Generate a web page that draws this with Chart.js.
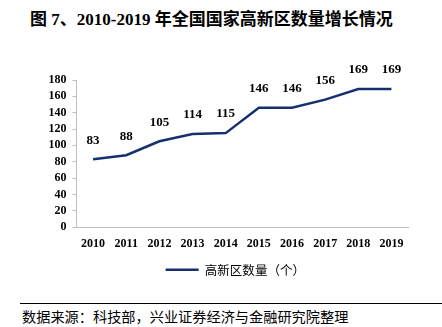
<!DOCTYPE html>
<html>
<head>
<meta charset="utf-8">
<script src="https://cdn.jsdelivr.net/npm/chart.js@4/dist/chart.umd.min.js"></script>
<style>
  body { margin: 0; width: 442px; height: 327px; background: #fff; position: relative; overflow: hidden; }
  #title { position: absolute; left: 30px; top: 5px; font: bold 17px 'Liberation Serif', 'Noto Sans CJK SC', serif; color: #000; white-space: nowrap; }
  #chartBox { position: absolute; left: 0; top: 57px; width: 442px; height: 229px; }
  #rule { position: absolute; left: 20px; right: 0; top: 303px; border-top: 1px solid #000; }
  #source { position: absolute; left: 22px; top: 306px; font: 14.2px 'Noto Sans CJK SC', sans-serif; color: #000; white-space: nowrap; }
</style>
</head>
<body>
<div id="title">图 7、2010-2019 年全国国家高新区数量增长情况</div>
<div id="chartBox"><canvas id="lineChart"></canvas></div>
<div id="rule"></div>
<div id="source">数据来源：科技部，兴业证券经济与金融研究院整理</div>
<script>
// --- 데이터 ---
const years = ['2010', '2011', '2012', '2013', '2014', '2015', '2016', '2017', '2018', '2019'];
const parkCounts = [83, 88, 105, 114, 115, 146, 146, 156, 169, 169];
const seriesName = '高新区数量（个）';

// 값 레이블 플러그인
const valueLabels = {
    id: 'valueLabels',
    afterDatasetsDraw(chart) {
        const ctx = chart.ctx;
        const meta = chart.getDatasetMeta(0);
        ctx.save();
        ctx.font = 'bold 13px "Liberation Serif", serif';
        ctx.fillStyle = '#000';
        ctx.textAlign = 'center';
        ctx.textBaseline = 'middle';
        meta.data.forEach((pt, i) => {
            ctx.fillText(String(parkCounts[i]), pt.x, pt.y - 19);
        });
        ctx.restore();
    }
};

// 범례 위치를 오른쪽으로 약간 이동
const legendShift = {
    id: 'legendShift',
    afterLayout(chart) {
        if (!chart.legend) return;
        chart.legend.left += 10;
        chart.legend.right += 10;
    }
};

new Chart(document.getElementById('lineChart'), {
    type: 'line',
    data: {
        labels: years,
        datasets: [{
            label: seriesName,
            data: parkCounts,
            borderColor: '#14306e',
            backgroundColor: '#14306e',
            borderWidth: 2.5,
            pointRadius: 0,
            tension: 0
        }]
    },
    options: {
        responsive: true,
        maintainAspectRatio: false,
        animation: false,
        layout: { padding: { left: 42.5, right: 34, top: 23, bottom: 0 } },
        plugins: {
            tooltip: { enabled: false },
            legend: {
                position: 'bottom',
                labels: {
                    usePointStyle: true,
                    pointStyle: 'line',
                    pointStyleWidth: 33,
                    boxHeight: 12,
                    color: '#000',
                    font: { family: '"Noto Sans CJK SC", sans-serif', size: 12.5 },
                    padding: 10
                }
            }
        },
        scales: {
            x: {
                offset: true,
                grid: { display: false },
                border: { display: true, color: '#bfbfbf' },
                ticks: { color: '#000', font: { family: '"Liberation Serif", serif', size: 12, weight: 'bold' }, maxRotation: 0, padding: 2 }
            },
            y: {
                min: 0,
                max: 180,
                ticks: { stepSize: 20, autoSkip: false, color: '#000', font: { family: '"Liberation Serif", serif', size: 12, weight: 'bold' }, padding: 6 },
                grid: { drawOnChartArea: false, drawTicks: true, tickLength: 4, color: '#bfbfbf' },
                border: { display: true, color: '#bfbfbf' }
            }
        }
    },
    plugins: [valueLabels, legendShift]
});
</script>
</body>
</html>
